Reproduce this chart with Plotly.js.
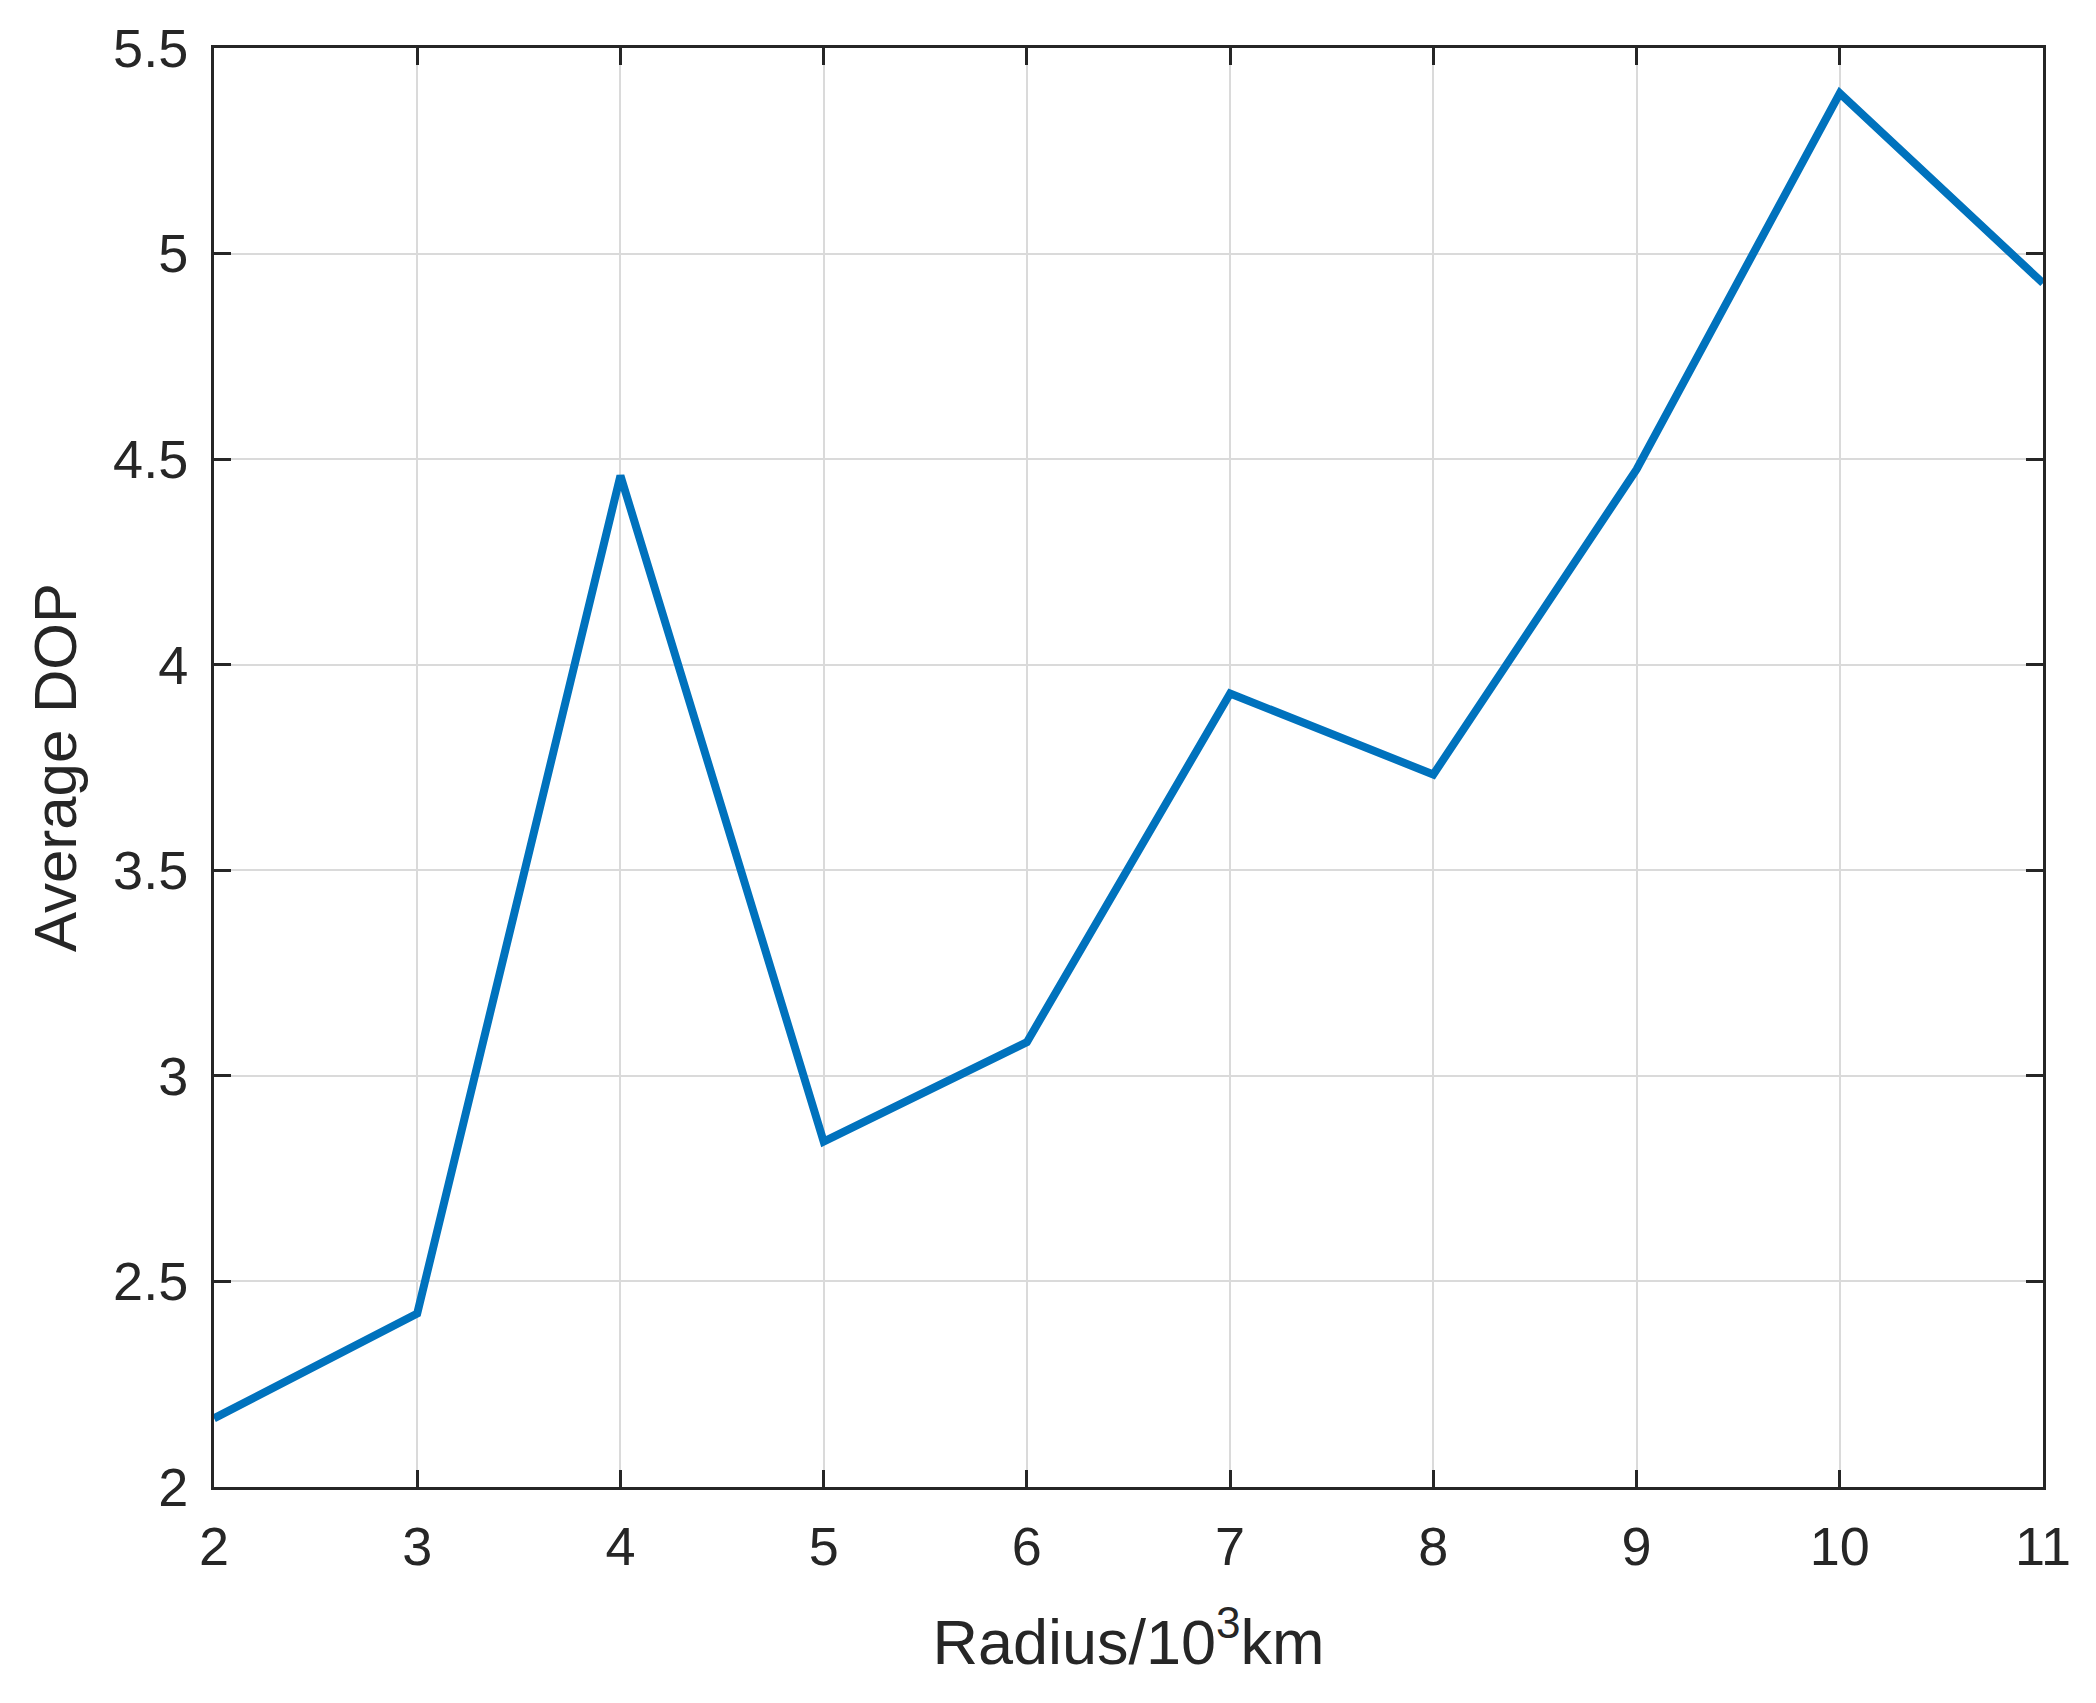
<!DOCTYPE html>
<html>
<head>
<meta charset="utf-8">
<script src="https://cdn.plot.ly/plotly-3.0.1.min.js"></script>
<style>
  html, body { margin: 0; padding: 0; background: #fff; }
  #myDiv { width: 2096px; height: 1703px; }
</style>
</head>
<body>
<div id="myDiv"></div>
<script>
var radius = [2, 3, 4, 5, 6, 7, 8, 9, 10, 11];
var avgDop = [2.167, 2.422, 4.46, 2.84, 3.082, 3.93, 3.733, 4.475, 5.39, 4.928];

var xTicks = [2, 3, 4, 5, 6, 7, 8, 9, 10, 11];
var yTicks = [2, 2.5, 3, 3.5, 4, 4.5, 5, 5.5];

var trace = {
  x: radius,
  y: avgDop,
  type: 'scatter',
  mode: 'lines',
  line: { color: '#0072BD', width: 8 },
  showlegend: false
};

var axisCommon = {
  showline: true,
  linecolor: '#262626',
  linewidth: 3,
  mirror: 'ticks',
  ticks: 'inside',
  ticklen: 17,
  tickwidth: 3,
  tickcolor: '#262626',
  showgrid: true,
  gridcolor: '#dadada',
  gridwidth: 2,
  zeroline: false,
  tickfont: { family: 'Liberation Sans, Arial, sans-serif', size: 54, color: '#262626' }
};

var layout = {
  width: 2096,
  height: 1703,
  margin: { l: 214, r: 53, t: 48, b: 216 },
  paper_bgcolor: '#ffffff',
  plot_bgcolor: '#ffffff',
  xaxis: Object.assign({}, axisCommon, {
    range: [2, 11],
    tickvals: xTicks,
    ticktext: xTicks.map(String),
    ticklabelstandoff: 10,
    title: {
      text: 'Radius/10<sup>3</sup>km',
      font: { family: 'Liberation Sans, Arial, sans-serif', size: 63, color: '#262626' },
      standoff: 46
    }
  }),
  yaxis: Object.assign({}, axisCommon, {
    range: [2, 5.5],
    tickvals: yTicks,
    ticktext: yTicks.map(String),
    ticklabelstandoff: 12,
    title: {
      text: 'Average DOP',
      font: { family: 'Liberation Sans, Arial, sans-serif', size: 60, color: '#262626' },
      standoff: 18
    }
  })
};

Plotly.newPlot('myDiv', [trace], layout, { staticPlot: true });
</script>
</body>
</html>
